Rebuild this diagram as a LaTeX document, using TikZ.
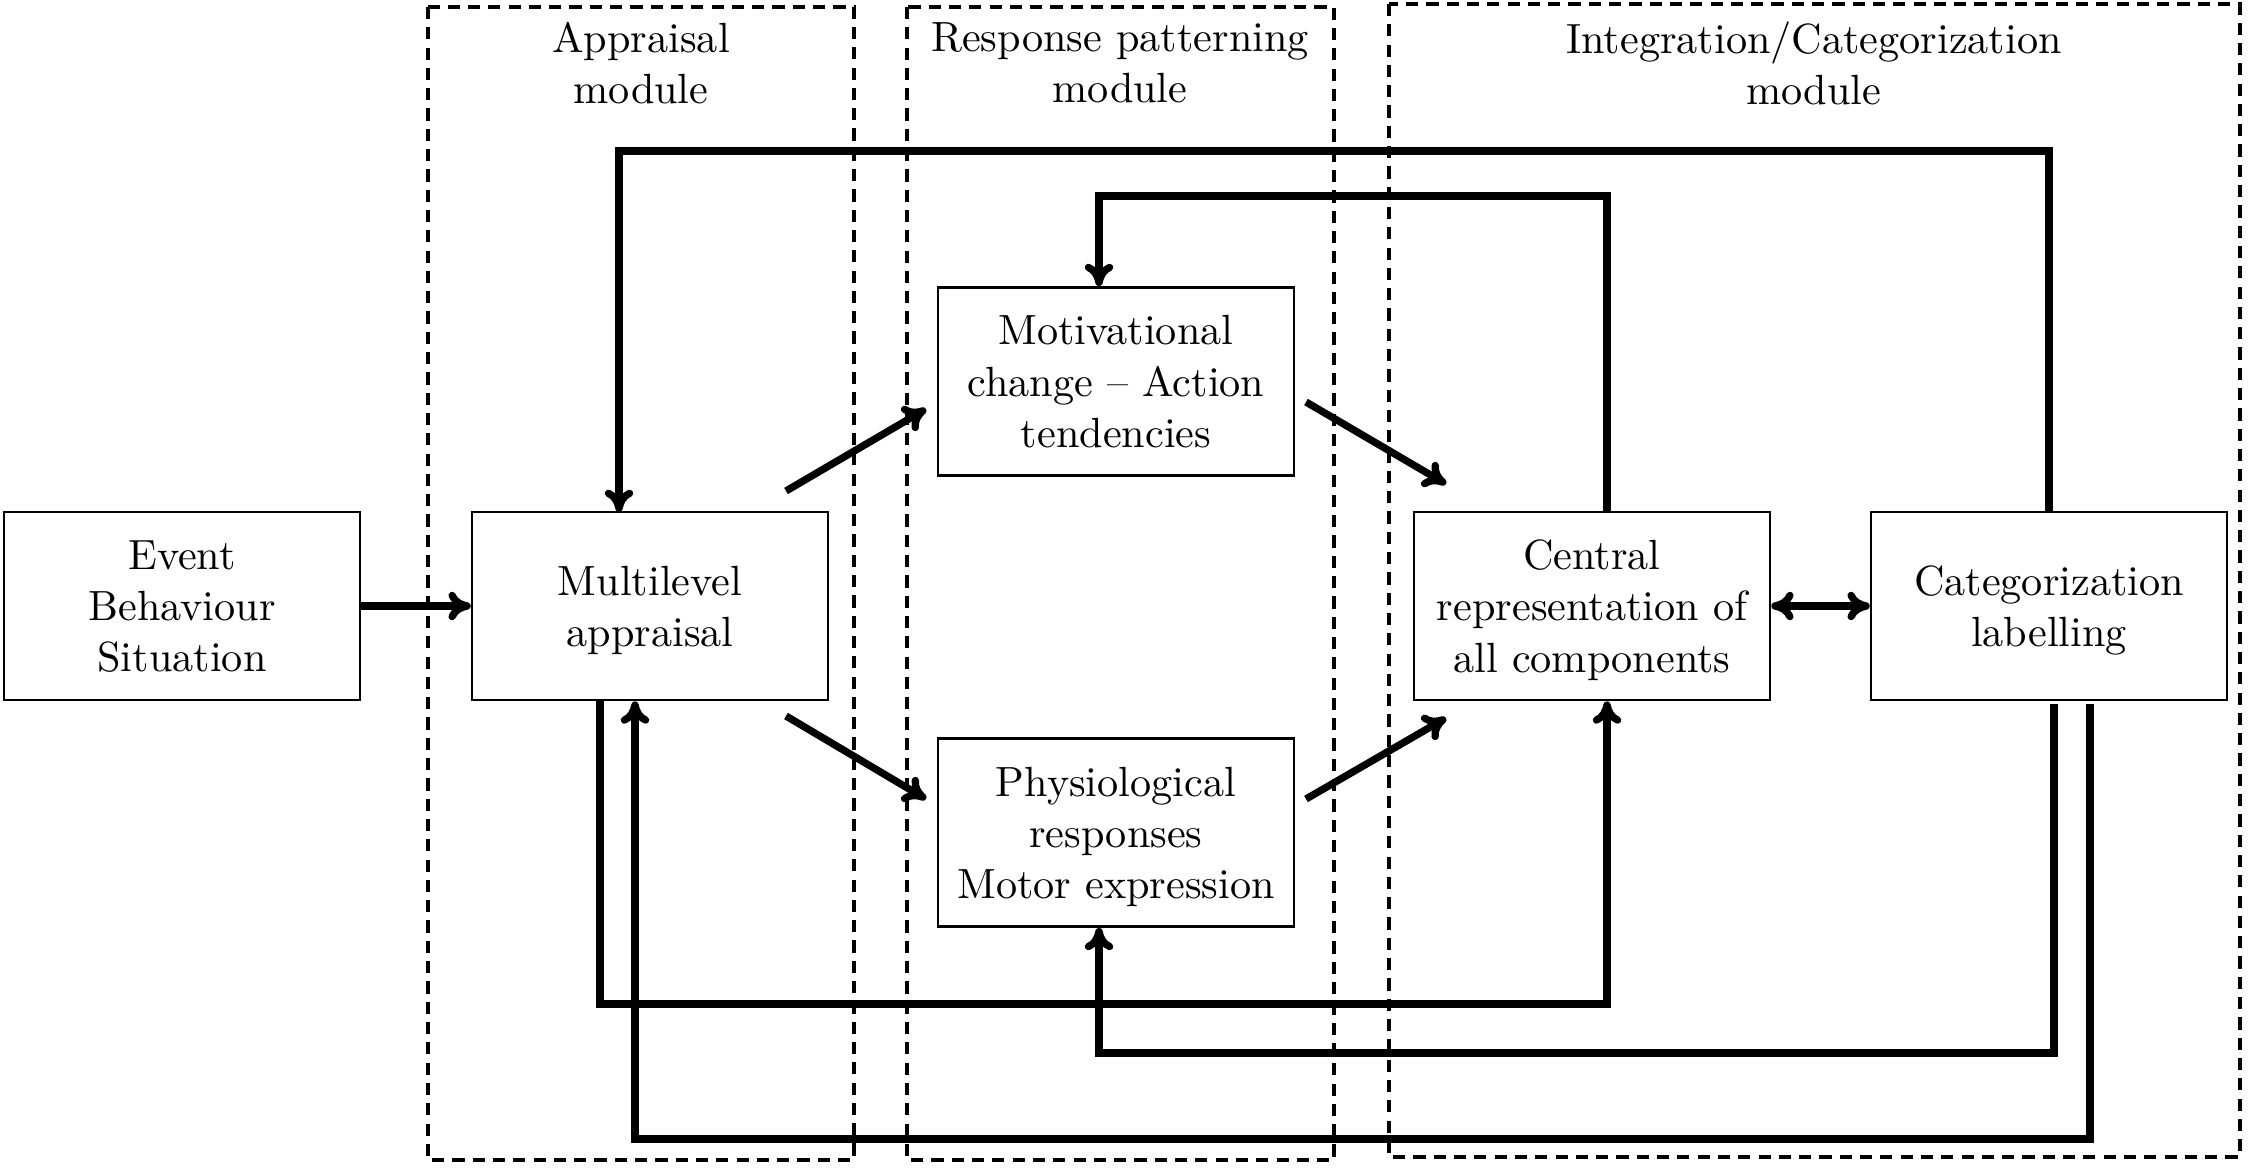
\documentclass[tikz,border=0pt]{standalone}
\usetikzlibrary{arrows.meta,calc}
\begin{document}
\begin{tikzpicture}[x=0.2463pt,y=-0.2463pt,
  every node/.style={font=\fontsize{10.4}{12.6}\selectfont},
  box/.style={draw,line width=0.6pt,rectangle,minimum width=87.7pt,minimum height=46.4pt,align=center,inner sep=0pt,text depth=0pt},
  modbox/.style={draw,line width=0.9pt,dash pattern=on 3pt off 2pt},
  modtitle/.style={align=center,inner sep=0pt},
  tip/.tip={Computer Modern Rightarrow[length=5.5pt,width=7pt]},
  conn/.style={line width=1.8pt,-tip},
  dconn/.style={line width=1.8pt,tip-tip},
  plain/.style={line width=1.8pt}]
\useasboundingbox (0,0) rectangle (2252,1168);

% module frames
\draw[modbox] (428,7) rectangle (854,1160);
\draw[modbox] (907,7) rectangle (1334,1160);
\draw[modbox] (1389,4) rectangle (2240,1157);
\node[modtitle] (tapp) at (641,63) {Appraisal\\module};
\node[modtitle] (tresp) at (1120,63) {Response patterning\\module};
\node[modtitle] (tint) at (1814,63) {Integration/Categorization\\module};

% boxes
\node[box] (ev) at (182,606) {Event\\Behaviour\\Situation};
\node[box] (ml) at (650,606) {Multilevel\\appraisal};
\node[box] (mo) at (1116,381.5) {Motivational\\change -- Action\\tendencies};
\node[box] (ph) at (1116,832.5) {Physiological\\responses\\Motor expression};
\node[box] (ce) at (1592,606) {Central\\representation of\\all components};
\node[box] (ca) at (2049,606) {Categorization\\labelling};

% free ends of diagonal arrows
\coordinate (d1s) at (786,491);  \coordinate (d1e) at (926,409);
\coordinate (d2s) at (786,716);  \coordinate (d2e) at (926,799);
\coordinate (d3s) at (1306,402); \coordinate (d3e) at (1446,484);
\coordinate (d4s) at (1306,799); \coordinate (d4e) at (1446,718);

\draw[conn] (ev.east) -- (ml.west);
\draw[conn] (d1s) -- (d1e);
\draw[conn] (d2s) -- (d2e);
\draw[conn] (d3s) -- (d3e);
\draw[conn] (d4s) -- (d4e);
\draw[dconn] (ce.east) -- (ca.west);

% feedback loops
\draw[conn] (ca.north) -- (2049,151) -- (619,151) -- (619,512);
\draw[conn] ($(ce.north)+(15,0)$) -- (1607,196) -- (1099,196) -- ($(mo.north)+(-17,0)$);
\draw[conn] ($(ml.south)+(-50,0)$) -- (600,1004) -- (1607,1004) -- ($(ce.south)+(15,0)$);
\draw[conn] ($(ca.south)+(5,3)$) -- (2054,1053) -- (1099,1053) -- ($(ph.south)+(-17,0)$);
\draw[conn] ($(ca.south)+(41,3)$) -- (2090,1139) -- (635,1139) -- ($(ml.south)+(-15,0)$);
\end{tikzpicture}
\end{document}
